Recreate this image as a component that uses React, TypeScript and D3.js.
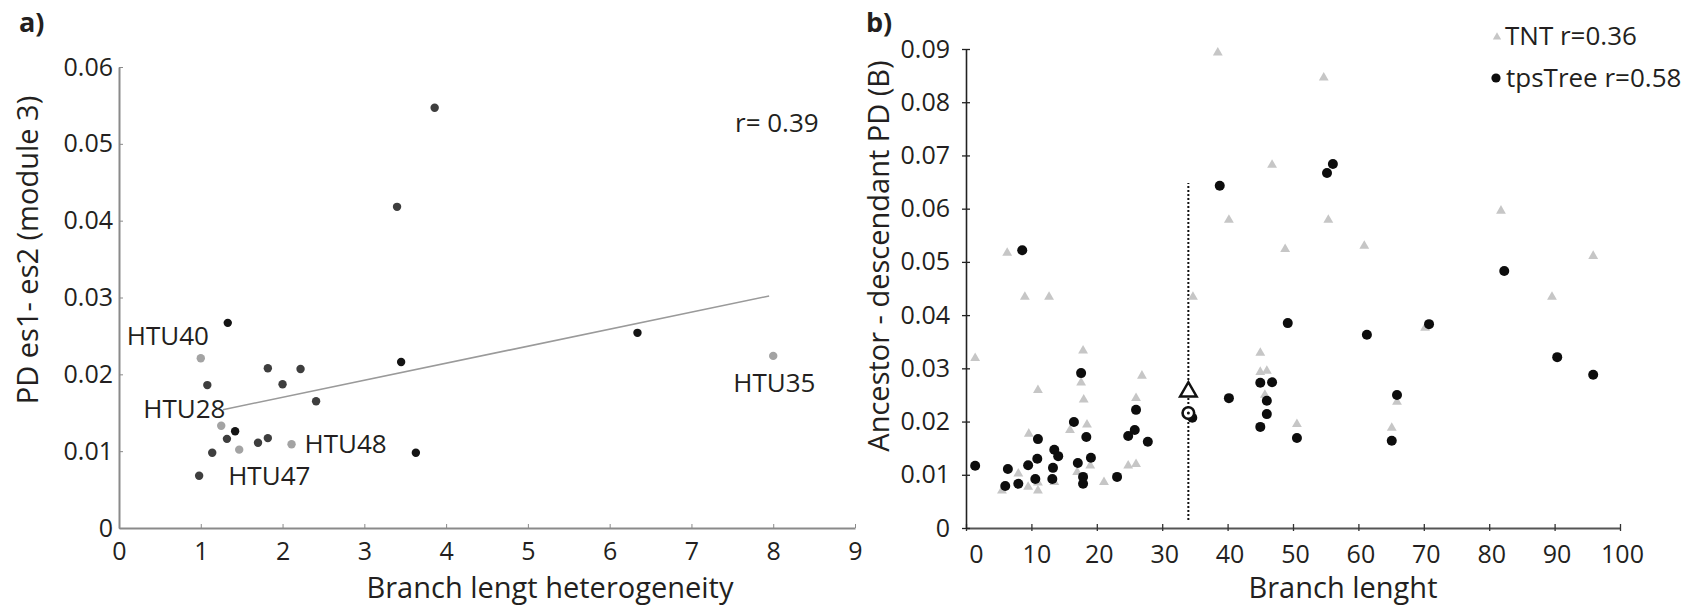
import React, { useEffect, useRef } from 'react';
import * as d3 from 'd3';

// panel a) branch length heterogeneity vs PD es1-es2 (module 3)
const aLight = [[1.0, 0.0221], [1.25, 0.0133], [1.47, 0.0102], [2.11, 0.0109], [8.0, 0.0224]];
const aDark = [
  [1.82, 0.0208], [2.22, 0.0207], [1.08, 0.0186], [2.0, 0.0187], [2.41, 0.0165], [1.32, 0.0116],
  [1.82, 0.0117], [1.7, 0.0111], [1.14, 0.0098], [0.98, 0.0068], [3.4, 0.0418], [3.86, 0.0547]
];
const aBlack = [[3.45, 0.0216], [1.42, 0.0126], [3.63, 0.0098], [1.33, 0.0267], [6.34, 0.0254]];
const aFit = [[1.27, 0.0154], [7.95, 0.0302]];
const htuNames = ['HTU40', 'HTU28', 'HTU47', 'HTU48', 'HTU35'];
const aXTicks = [0, 1, 2, 3, 4, 5, 6, 7, 8, 9];
const aYTicks = [0, 0.01, 0.02, 0.03, 0.04, 0.05, 0.06];

// panel b) branch length vs ancestor-descendant PD
const tpsTree = [
  [1.4, 0.0117], [6.4, 0.0111], [6.0, 0.0079], [8.0, 0.0083], [9.5, 0.0118], [10.6, 0.0092], [10.9, 0.013],
  [11.0, 0.0167], [13.2, 0.0092], [13.3, 0.0113], [13.5, 0.0147], [14.1, 0.0135], [16.5, 0.0199], [17.6, 0.0291],
  [17.1, 0.0122], [17.9, 0.0096], [17.9, 0.0083], [18.4, 0.0171], [19.1, 0.0132], [23.1, 0.0096], [24.8, 0.0173],
  [25.8, 0.0184], [26.0, 0.0222], [27.8, 0.0162], [34.6, 0.0207], [40.2, 0.0244], [45.0, 0.0273], [46.8, 0.0274],
  [46.0, 0.0239], [46.0, 0.0214], [45.0, 0.019], [8.6, 0.0522], [38.8, 0.0643], [56.1, 0.0684], [55.2, 0.0667],
  [82.3, 0.0483], [49.2, 0.0385], [61.3, 0.0363], [70.8, 0.0383], [50.6, 0.0169], [65.9, 0.025], [65.1, 0.0164],
  [90.4, 0.0321], [95.9, 0.0288]
];
const tnt = [
  [1.4, 0.0319], [5.5, 0.007], [8.0, 0.0102], [9.5, 0.0077], [11.0, 0.007], [11.0, 0.0259], [9.6, 0.0177],
  [11.0, 0.0085], [13.5, 0.0086], [15.9, 0.0184], [17.9, 0.0333], [17.6, 0.0273], [18.0, 0.0241], [18.5, 0.0194],
  [19.0, 0.0117], [17.0, 0.0105], [21.1, 0.0086], [24.8, 0.0117], [26.0, 0.012], [26.0, 0.0244], [26.9, 0.0286],
  [45.0, 0.0329], [45.0, 0.0293], [46.0, 0.0295], [45.7, 0.025], [6.3, 0.0517], [9.0, 0.0434], [12.7, 0.0434],
  [38.5, 0.0893], [46.8, 0.0682], [40.2, 0.0579], [48.8, 0.0524], [54.7, 0.0846], [55.4, 0.0579], [60.9, 0.053],
  [81.8, 0.0596], [95.9, 0.0511], [89.6, 0.0434], [70.2, 0.0376], [50.6, 0.0195], [65.9, 0.0237], [65.1, 0.0188],
  [34.7, 0.0434]
];
const tntFocal = [34.0, 0.0256];
const tpsFocal = [34.0, 0.0216];
const cutoffLine = [[34.0, 0.0015], [34.0, 0.0648]];
const bXTicks = [0, 10, 20, 30, 40, 50, 60, 70, 80, 90, 100];
const bYTicks = [0, 0.01, 0.02, 0.03, 0.04, 0.05, 0.06, 0.07, 0.08, 0.09];
const legendLabels = ['TNT r=0.36', 'tpsTree r=0.58'];

const FONT = '"Open Sans", sans-serif';
const TEXT = '#231f20';

const App = () => {
  const svgRef = useRef<SVGSVGElement>(null);

  useEffect(() => {
    const svg = d3.select(svgRef.current);
    svg.selectAll('*').remove();
    svg.style('font-family', FONT);

    const fmt = (d: number) => (d === 0 ? '0' : d3.format('.2f')(d));

    // ---------- panel a ----------
    const xA = d3.scaleLinear().domain([0, 9]).range([119, 855]);
    const yA = d3.scaleLinear().domain([0, 0.06]).range([528, 67]);

    const gA = svg.append('g');
    const axA = '#8a8a8a';

    gA.append('g')
      .attr('transform', `translate(0, ${yA(0)})`)
      .call(d3.axisBottom(xA).tickValues(aXTicks).tickSize(-4).tickSizeOuter(0).tickPadding(14).tickFormat(d3.format('d')))
      .call(g => g.select('.domain').attr('stroke', axA).attr('stroke-width', 2))
      .call(g => g.selectAll('.tick line').attr('stroke', axA))
      .call(g => g.selectAll('.tick text').attr('font-size', 25).attr('fill', TEXT).attr('font-family', FONT));

    gA.append('g')
      .attr('transform', `translate(${xA(0)}, 0)`)
      .call(d3.axisLeft(yA).tickValues(aYTicks).tickSize(-4).tickSizeOuter(0).tickPadding(6).tickFormat(d => fmt(+d)))
      .call(g => g.select('.domain').attr('stroke', axA).attr('stroke-width', 2))
      .call(g => g.selectAll('.tick line').attr('stroke', axA))
      .call(g => g.selectAll('.tick text').attr('font-size', 25).attr('fill', TEXT).attr('font-family', FONT));

    // regression line
    gA.append('path')
      .datum(aFit)
      .attr('fill', 'none')
      .attr('stroke', '#9a9a9a')
      .attr('stroke-width', 1.6)
      .attr('d', d3.line<number[]>().x(d => xA(d[0])).y(d => yA(d[1])));

    const groupsA = [
      { data: aLight, color: '#a3a3a3' },
      { data: aDark, color: '#3e3e3e' },
      { data: aBlack, color: '#141414' }
    ];
    groupsA.forEach(({ data, color }) => {
      gA.selectAll(null)
        .data(data)
        .enter()
        .append('circle')
        .attr('cx', d => xA(d[0]))
        .attr('cy', d => yA(d[1]))
        .attr('r', 4.2)
        .attr('fill', color);
    });

    // HTU labels, offset from their (light) points
    const htuOffsets = [[-74, -13], [-78, -8], [-11, 35], [13, 9], [-40, 36]];
    const htuPoints = [aLight[0], aLight[1], aLight[2], aLight[3], aLight[4]];
    htuNames.forEach((name, i) => {
      gA.append('text')
        .attr('x', xA(htuPoints[i][0]) + htuOffsets[i][0])
        .attr('y', yA(htuPoints[i][1]) + htuOffsets[i][1])
        .attr('font-size', 26)
        .attr('fill', TEXT)
        .text(name);
    });

    gA.append('text')
      .attr('x', 735)
      .attr('y', 132)
      .attr('font-size', 26)
      .attr('fill', TEXT)
      .text('r= 0.39');

    gA.append('text')
      .attr('x', 550)
      .attr('y', 598)
      .attr('text-anchor', 'middle')
      .attr('font-size', 29)
      .attr('fill', TEXT)
      .text('Branch lengt heterogeneity');

    gA.append('text')
      .attr('transform', 'translate(38, 250) rotate(-90)')
      .attr('text-anchor', 'middle')
      .attr('font-size', 29)
      .attr('fill', TEXT)
      .text('PD es1- es2 (module 3)');

    gA.append('text')
      .attr('x', 19)
      .attr('y', 32)
      .attr('font-size', 27)
      .attr('font-weight', 700)
      .attr('fill', TEXT)
      .text('a)');

    // ---------- panel b ----------
    const xB = d3.scaleLinear().domain([0, 100]).range([966, 1620]);
    const yB = d3.scaleLinear().domain([0, 0.09]).range([528, 49]);
    const gB = svg.append('g');

    gB.append('g')
      .attr('transform', `translate(0, ${yB(0)})`)
      .call(d3.axisBottom(xB).tickValues(bXTicks).tickSize(0).tickSizeOuter(0).tickPadding(17).tickFormat(d3.format('d')))
      .call(g => g.select('.domain').attr('stroke', '#555').attr('stroke-width', 2))
      .call(g => g.selectAll('.tick line').attr('y1', -4).attr('y2', 3).attr('stroke', '#333').attr('stroke-width', 1.3))
      .call(g => g.selectAll('.tick text').attr('font-size', 25).attr('fill', TEXT).attr('font-family', FONT).attr('dx', d => (d === 0 ? 10 : d === 10 ? 5 : 2)));

    gB.append('g')
      .attr('transform', `translate(${xB(0)}, 0)`)
      .call(d3.axisLeft(yB).tickValues(bYTicks).tickSize(0).tickSizeOuter(0).tickPadding(16).tickFormat(d => fmt(+d)))
      .call(g => g.select('.domain').attr('stroke', '#222').attr('stroke-width', 1.6))
      .call(g => g.selectAll('.tick line').attr('x1', -4).attr('x2', 4).attr('stroke', '#222').attr('stroke-width', 1.3))
      .call(g => g.selectAll('.tick text').attr('font-size', 25).attr('fill', TEXT).attr('font-family', FONT));

    // cut-off line
    gB.append('path')
      .datum(cutoffLine)
      .attr('fill', 'none')
      .attr('stroke', '#111')
      .attr('stroke-width', 2)
      .attr('stroke-dasharray', '2,2')
      .attr('d', d3.line<number[]>().x(d => xB(d[0])).y(d => yB(d[1])));

    const tri = d3.symbol().type(d3.symbolTriangle);

    gB.selectAll('.tnt')
      .data(tnt)
      .enter()
      .append('path')
      .attr('class', 'tnt')
      .attr('transform', d => `translate(${xB(d[0])}, ${yB(d[1])})`)
      .attr('d', tri.size(42)())
      .attr('fill', '#c6c6c6');

    gB.selectAll('.tps')
      .data(tpsTree)
      .enter()
      .append('circle')
      .attr('class', 'tps')
      .attr('cx', d => xB(d[0]))
      .attr('cy', d => yB(d[1]))
      .attr('r', 5)
      .attr('fill', '#0d0d0d');

    // highlighted node
    gB.append('path')
      .attr('transform', `translate(${xB(tntFocal[0])}, ${yB(tntFocal[1])})`)
      .attr('d', d3.symbol().type(d3.symbolTriangle).size(120)())
      .attr('fill', '#fff')
      .attr('stroke', '#111')
      .attr('stroke-width', 2.4);

    gB.append('circle')
      .attr('cx', xB(tpsFocal[0]))
      .attr('cy', yB(tpsFocal[1]))
      .attr('r', 5.8)
      .attr('fill', '#fff')
      .attr('stroke', '#111')
      .attr('stroke-width', 2.6);

    gB.append('circle')
      .attr('cx', xB(tpsFocal[0]))
      .attr('cy', yB(tpsFocal[1]))
      .attr('r', 1.5)
      .attr('fill', '#111');

    // legend
    gB.append('path')
      .attr('transform', 'translate(1497, 37)')
      .attr('d', d3.symbol().type(d3.symbolTriangle).size(30)())
      .attr('fill', '#c6c6c6');
    gB.append('text')
      .attr('x', 1505)
      .attr('y', 45)
      .attr('font-size', 26)
      .attr('fill', TEXT)
      .text(legendLabels[0]);
    gB.append('circle')
      .attr('cx', 1496)
      .attr('cy', 78)
      .attr('r', 4.6)
      .attr('fill', '#0d0d0d');
    gB.append('text')
      .attr('x', 1506)
      .attr('y', 87)
      .attr('font-size', 26)
      .attr('fill', TEXT)
      .text(legendLabels[1]);

    gB.append('text')
      .attr('x', 1343)
      .attr('y', 598)
      .attr('text-anchor', 'middle')
      .attr('font-size', 29)
      .attr('fill', TEXT)
      .text('Branch lenght');

    gB.append('text')
      .attr('transform', 'translate(889, 256) rotate(-90)')
      .attr('text-anchor', 'middle')
      .attr('font-size', 29)
      .attr('fill', TEXT)
      .text('Ancestor - descendant PD (B)');

    gB.append('text')
      .attr('x', 866)
      .attr('y', 32)
      .attr('font-size', 27)
      .attr('font-weight', 700)
      .attr('fill', TEXT)
      .text('b)');
  }, []);

  return (
    <svg
      ref={svgRef}
      width={1696}
      height={610}
      style={{ position: 'absolute', left: 0, top: 0, background: '#fff' }}
    />
  );
};

export default App;
